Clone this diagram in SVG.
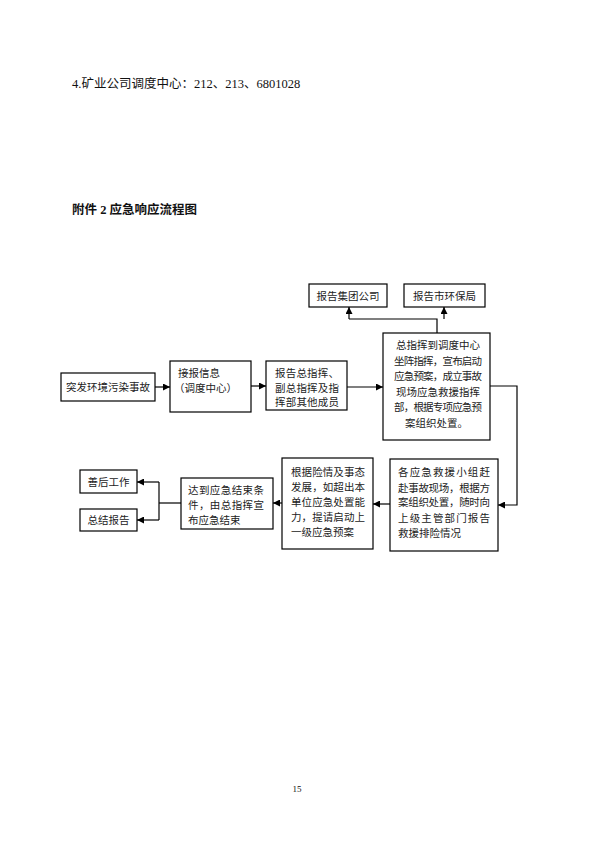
<svg xmlns="http://www.w3.org/2000/svg" width="595" height="842" viewBox="0 0 595 842">
<style>
.t{font-family:"Liberation Serif","Noto Sans CJK SC",serif;font-size:10.5px;fill:#222}
.b{fill:#fff;stroke:#000;stroke-width:1.2}
.c{fill:none;stroke:#000;stroke-width:1.2}
.h{font-family:"Liberation Serif","Noto Sans CJK SC",serif;fill:#111}
</style>
<defs>
<marker id="a" viewBox="0 0 10 10" refX="10" refY="5" markerWidth="7" markerHeight="7" markerUnits="userSpaceOnUse" orient="auto">
<path d="M0,0 L10,5 L0,10 z" fill="#000"/>
</marker>
</defs>
<rect width="595" height="842" fill="#fff"/>
<text class="h" x="72" y="88" font-size="12.5">4.矿业公司调度中心：212、213、6801028</text>
<text class="h" x="72" y="214" font-size="12.5" font-weight="bold">附件 2 应急响应流程图</text>
<text class="h" x="297" y="792" font-size="9" text-anchor="middle">15</text>

<g id="connectors">
<path class="c" d="M155,387 H170" marker-end="url(#a)"/>
<path class="c" d="M251,386 H266" marker-end="url(#a)"/>
<path class="c" d="M347,387 H383" marker-end="url(#a)"/>
<path class="c" d="M437,333 V319 H349"/>
<path class="c" d="M349,319 V307" marker-end="url(#a)"/>
<path class="c" d="M444,319 V307" marker-end="url(#a)"/>
<path class="c" d="M490,386 H517 V505 H498" marker-end="url(#a)"/>
<path class="c" d="M390,504 H373" marker-end="url(#a)"/>
<path class="c" d="M282,503 H273" marker-end="url(#a)"/>
<path class="c" d="M181,503 H159"/>
<path class="c" d="M159,482 V520"/>
<path class="c" d="M159,482 H137" marker-end="url(#a)"/>
<path class="c" d="M159,520 H137" marker-end="url(#a)"/>
</g>

<g id="n1">
<rect class="b" x="61" y="373" width="94" height="28"/>
<text class="t" x="108" y="391" text-anchor="middle">突发环境污染事故</text>
</g>
<g id="n2">
<rect class="b" x="170" y="361" width="81" height="51"/>
<text class="t" x="178" y="377">接报信息</text>
<text class="t" x="174" y="392">（调度中心）</text>
</g>
<g id="n3">
<rect class="b" x="266" y="361" width="81" height="49"/>
<text class="t" x="275" y="377" textLength="64" lengthAdjust="spacing">报告总指挥、</text>
<text class="t" x="275" y="392" textLength="64" lengthAdjust="spacing">副总指挥及指</text>
<text class="t" x="275" y="406" textLength="64" lengthAdjust="spacing">挥部其他成员</text>
</g>
<g id="n4">
<rect class="b" x="309" y="284" width="78" height="23"/>
<text class="t" x="348" y="299.5" text-anchor="middle">报告集团公司</text>
</g>
<g id="n5">
<rect class="b" x="404" y="284" width="81" height="23"/>
<text class="t" x="444.5" y="299.5" text-anchor="middle">报告市环保局</text>
</g>
<g id="n6">
<rect class="b" x="383" y="333" width="107" height="107"/>
<text class="t" x="396" y="349" textLength="84" lengthAdjust="spacing">总指挥到调度中心</text>
<text class="t" x="394" y="365" textLength="88" lengthAdjust="spacing">坐阵指挥，宣布启动</text>
<text class="t" x="394" y="380" textLength="88" lengthAdjust="spacing">应急预案，成立事故</text>
<text class="t" x="396" y="396" textLength="84" lengthAdjust="spacing">现场应急救援指挥</text>
<text class="t" x="394" y="411" textLength="88" lengthAdjust="spacing">部，根据专项应急预</text>
<text class="t" x="436.5" y="427" text-anchor="middle">案组织处置。</text>
</g>
<g id="n7">
<rect class="b" x="390" y="459" width="108" height="92"/>
<text class="t" x="398" y="476" textLength="92" lengthAdjust="spacing">各应急救援小组赶</text>
<text class="t" x="398" y="492" textLength="92" lengthAdjust="spacing">赴事故现场，根据方</text>
<text class="t" x="398" y="506" textLength="92" lengthAdjust="spacing">案组织处置，随时向</text>
<text class="t" x="398" y="522" textLength="92" lengthAdjust="spacing">上级主管部门报告</text>
<text class="t" x="398" y="537">救援排险情况</text>
</g>
<g id="n8">
<rect class="b" x="282" y="458" width="91" height="91"/>
<text class="t" x="291" y="476" textLength="74" lengthAdjust="spacing">根据险情及事态</text>
<text class="t" x="291" y="491" textLength="74" lengthAdjust="spacing">发展，如超出本</text>
<text class="t" x="291" y="506" textLength="74" lengthAdjust="spacing">单位应急处置能</text>
<text class="t" x="291" y="521" textLength="74" lengthAdjust="spacing">力，提请启动上</text>
<text class="t" x="291" y="536">一级应急预案</text>
</g>
<g id="n9">
<rect class="b" x="181" y="478" width="92" height="51"/>
<text class="t" x="188" y="494" textLength="76" lengthAdjust="spacing">达到应急结束条</text>
<text class="t" x="188" y="509" textLength="76" lengthAdjust="spacing">件，由总指挥宣</text>
<text class="t" x="188" y="524">布应急结束</text>
</g>
<g id="n10">
<rect class="b" x="80" y="470" width="57" height="23"/>
<text class="t" x="108.5" y="485.5" text-anchor="middle">善后工作</text>
</g>
<g id="n11">
<rect class="b" x="80" y="509" width="57" height="22"/>
<text class="t" x="108.5" y="524" text-anchor="middle">总结报告</text>
</g>
</svg>
